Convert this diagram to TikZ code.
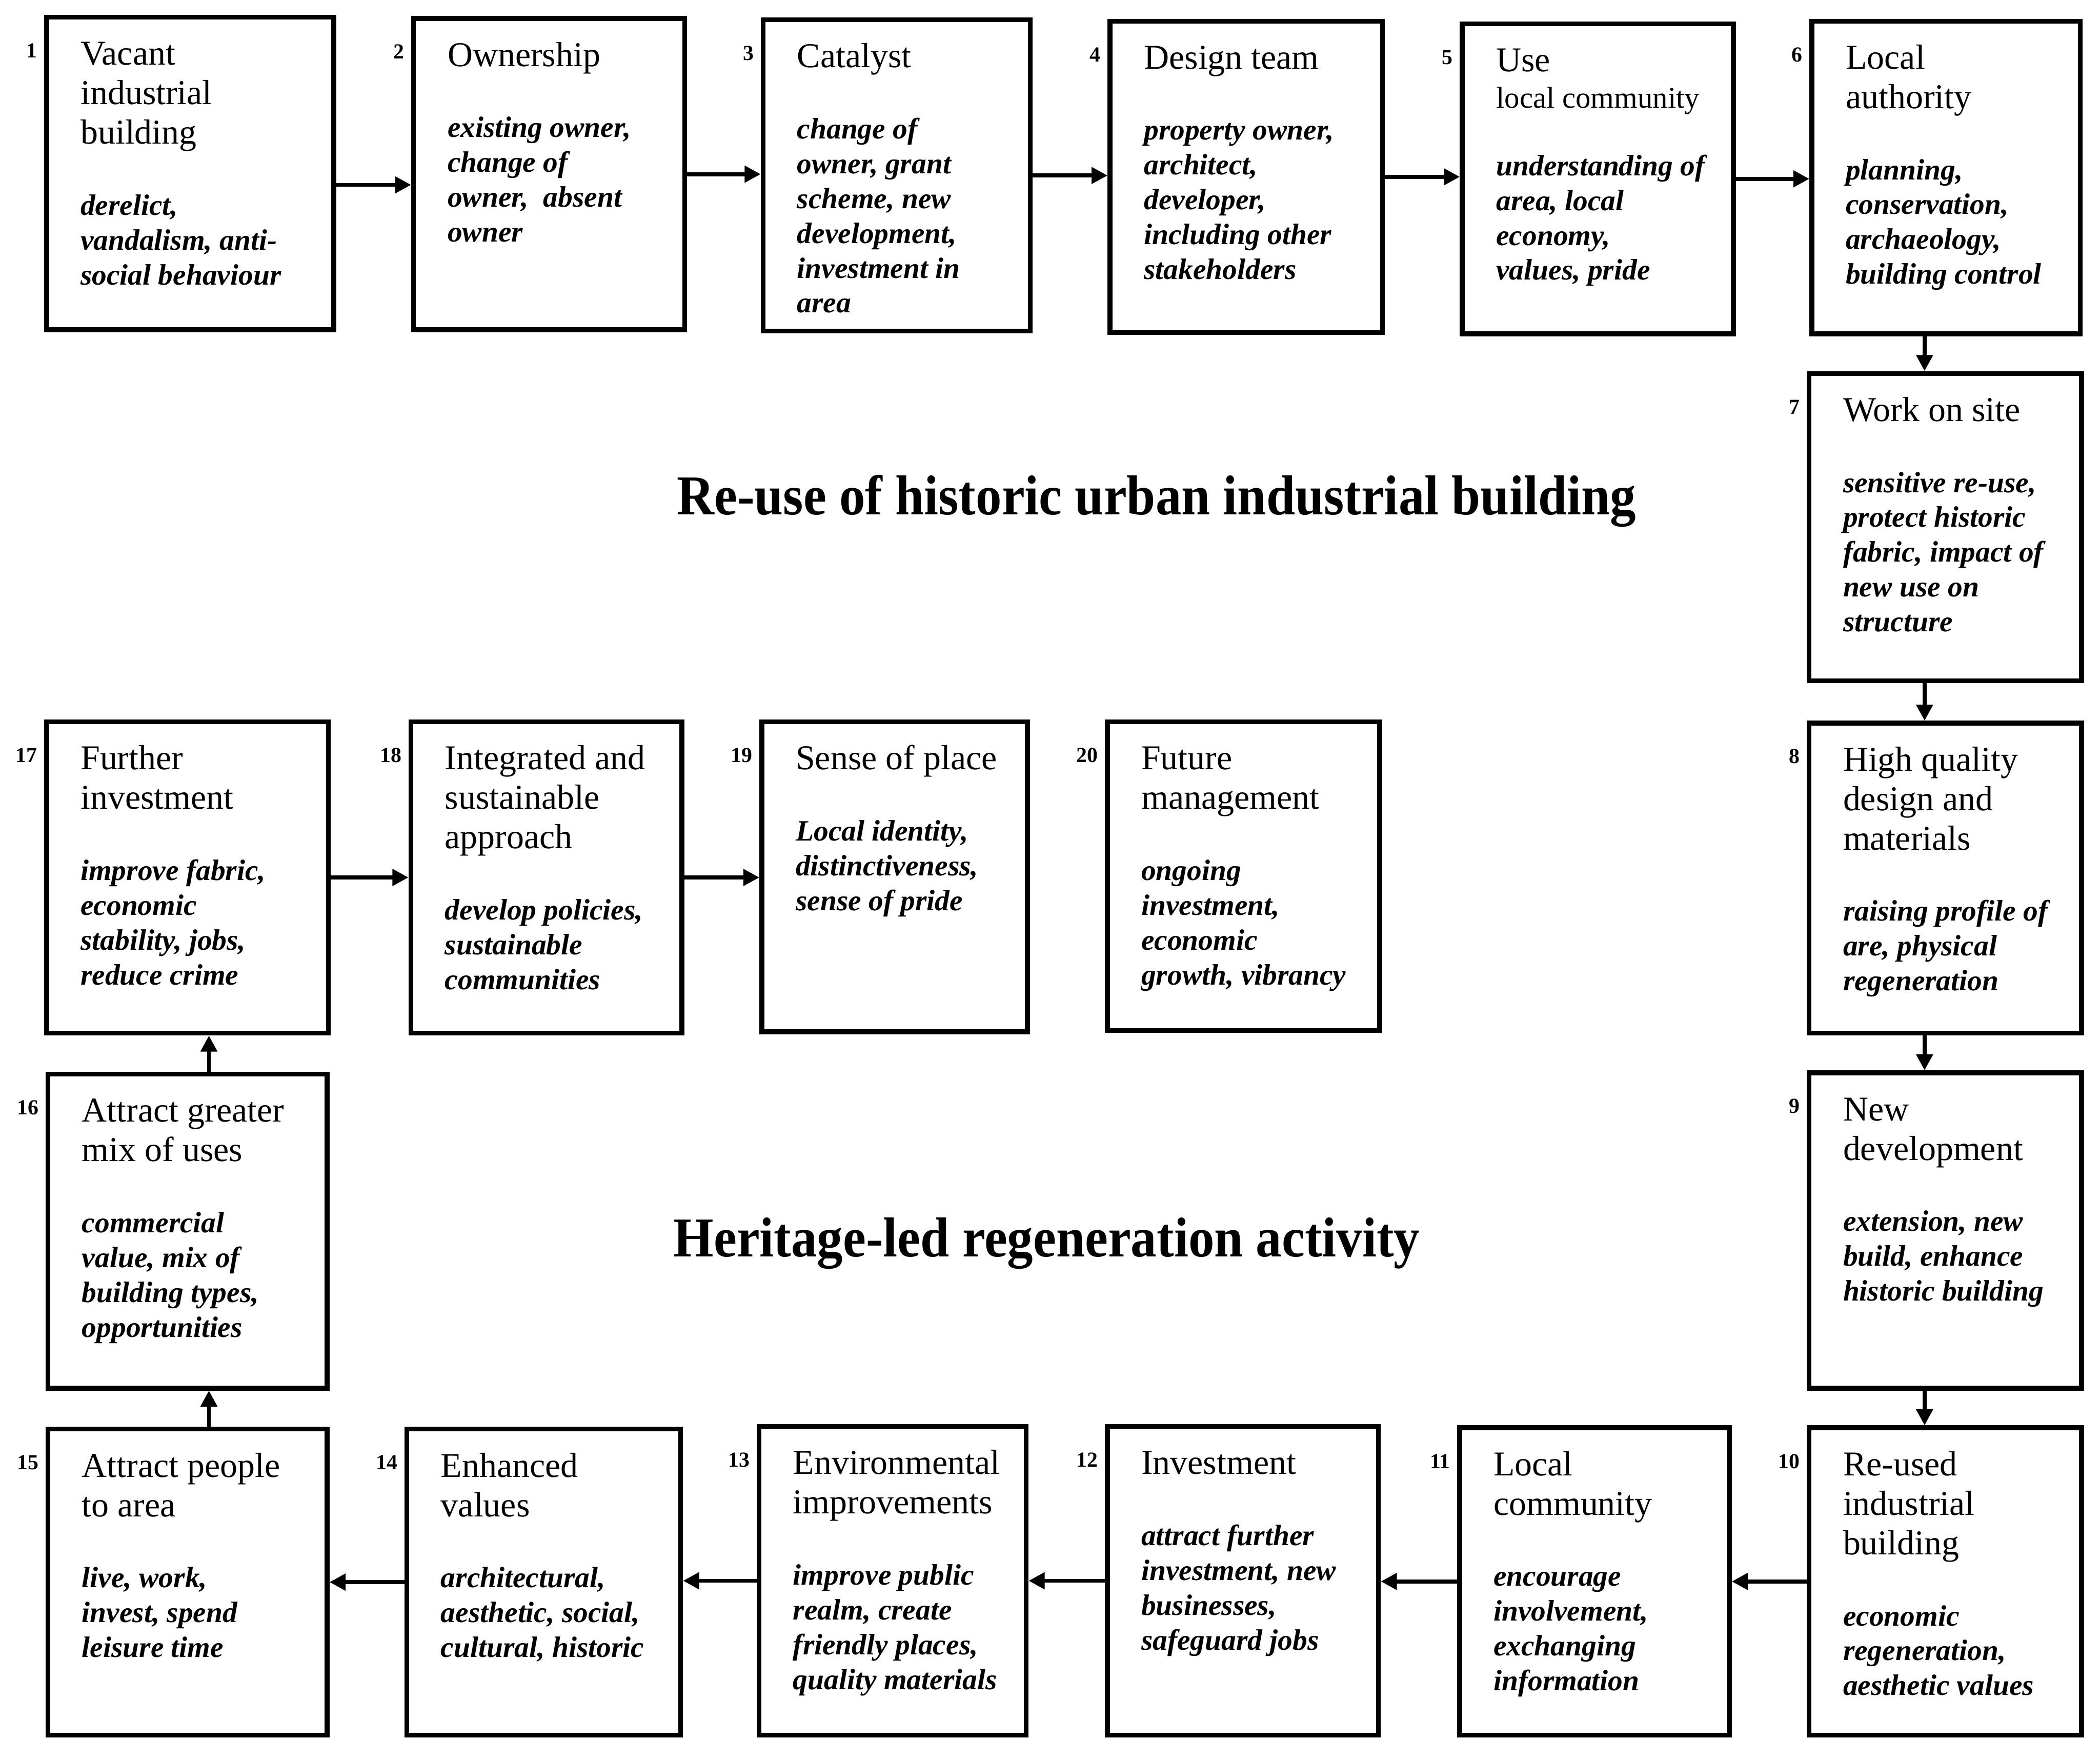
\documentclass[tikz,border=0pt]{standalone}
\usepackage{fontspec}
\setmainfont{Liberation Serif}
\usepackage{graphicx}
\usetikzlibrary{arrows.meta,fit}

\tikzset{
  stage/.style={draw=black, line width=3.6pt, inner sep=0pt, rectangle},
  stagenum/.style={font=\fontsize{16}{16}\selectfont\bfseries, inner sep=0pt},
  stagehead/.style={font=\fontsize{26}{29.5}\selectfont, inner sep=0pt},
  stagedesc/.style={font=\fontsize{22}{26}\selectfont\bfseries\itshape, inner sep=0pt},
  bigtitle/.style={font=\fontsize{42}{42}\selectfont\bfseries, inner sep=0pt},
  flow/.style={line width=3pt, -{Triangle[length=12pt,width=12pt]}},
}

% #1 name, #2 number, #3 left, #4 top, #5 right, #6 bottom (outer edges),
% #7 number of heading lines, #8 heading, #9 description
\newcommand\stagebox[9]{%
  \node[stage, fit={(#3+1.8,#4+1.8) (#5-1.8,#6-1.8)}] (#1) {};
  \node[stagenum, anchor=base east] (#1-n) at (#3-5,#4+32) {#2};
  \node[stagehead, anchor=base west] (#1-h) at (#3+27,#4+37.5)
    {\parbox[t]{220pt}{\raggedright #8}};
  \pgfmathsetmacro\descy{#4+61+29.5*#7}
  \node[stagedesc, anchor=base west] (#1-d) at (#3+27,\descy)
    {\parbox[t]{220pt}{\raggedright #9}};
}

\begin{document}
\begin{tikzpicture}[x=1pt, y=-1pt]
\useasboundingbox (0,0) rectangle (1568,1298);

% top row
\stagebox{b1}{1}{33}{11}{251}{248}{3}{Vacant\\industrial\\building}
  {derelict,\\vandalism, anti-\\social behaviour}
\stagebox{b2}{2}{307}{12}{513}{248}{1}{Ownership}
  {existing owner,\\change of\\owner,\ \ absent\\owner}
\stagebox{b3}{3}{568}{13}{771}{249}{1}{Catalyst}
  {change of\\owner, grant\\scheme, new\\development,\\investment in\\area}
\stagebox{b4}{4}{827}{14}{1034}{250}{1}{Design team}
  {property owner,\\architect,\\developer,\\including other\\stakeholders}
\stagebox{b5}{5}{1090}{16}{1296}{251}{1.83}
  {Use\\[-2.5pt]{\fontsize{22.5}{26}\selectfont local community}}
  {understanding of\\area, local\\economy,\\values, pride}
\stagebox{b6}{6}{1351}{14}{1555}{251}{2}{Local\\authority}
  {planning,\\conservation,\\archaeology,\\building control}

% right column
\stagebox{b7}{7}{1349}{277}{1556}{510}{1}{Work on site}
  {sensitive re-use,\\protect historic\\fabric, impact of\\new use on\\structure}
\stagebox{b8}{8}{1349}{538}{1556}{773}{3}{High quality\\design and\\materials}
  {raising profile of\\are, physical\\regeneration}
\stagebox{b9}{9}{1349}{799}{1556}{1038}{2}{New\\development}
  {extension, new\\build, enhance\\historic building}

% bottom row
\stagebox{b10}{10}{1349}{1064}{1556}{1297}{3}{Re-used\\industrial\\building}
  {economic\\regeneration,\\aesthetic values}
\stagebox{b11}{11}{1088}{1064}{1293}{1297}{2}{Local\\community}
  {encourage\\involvement,\\exchanging\\information}
\stagebox{b12}{12}{825}{1063}{1031}{1297}{1}{Investment}
  {attract further\\investment, new\\businesses,\\safeguard jobs}
\stagebox{b13}{13}{565}{1063}{768}{1297}{2}{Environmental\\improvements}
  {improve public\\realm, create\\friendly places,\\quality materials}
\stagebox{b14}{14}{302}{1065}{510}{1297}{2}{Enhanced\\values}
  {architectural,\\aesthetic, social,\\cultural, historic}
\stagebox{b15}{15}{34}{1065}{246}{1297}{2}{Attract people\\to area}
  {live, work,\\invest, spend\\leisure time}

% left column and middle row
\stagebox{b16}{16}{34}{800}{246}{1038}{2}{Attract greater\\mix of uses}
  {commercial\\value, mix of\\building types,\\opportunities}
\stagebox{b17}{17}{33}{537}{247}{773}{2}{Further\\investment}
  {improve fabric,\\economic\\stability, jobs,\\reduce crime}
\stagebox{b18}{18}{305}{537}{511}{773}{3}{Integrated and\\sustainable\\approach}
  {develop policies,\\sustainable\\communities}
\stagebox{b19}{19}{567}{537}{769}{772}{1}{Sense of place}
  {Local identity,\\distinctiveness,\\sense of pride}
\stagebox{b20}{20}{825}{537}{1032}{771}{2}{Future\\management}
  {ongoing\\investment,\\economic\\growth, vibrancy}

% headings
\node[bigtitle, anchor=base] (t1) at (863.5,384)
  {\scalebox{0.92}[1]{Re-use of historic urban industrial building}};
\node[bigtitle, anchor=base] (t2) at (781.5,938)
  {\scalebox{0.92}[1]{Heritage-led regeneration activity}};

% columns of the vertical connectors
\coordinate (colR) at (1437,0);
\coordinate (colL) at (156,0);

% connectors
\draw[flow] ([yshift=-8.5pt]b1.east) -- ([yshift=-8.5pt]b1.east -| b2.west);
\draw[flow] (b2.east) -- (b2.east -| b3.west);
\draw[flow] (b3.east) -- (b3.east -| b4.west);
\draw[flow] (b4.east) -- (b4.east -| b5.west);
\draw[flow] (b5.east) -- (b5.east -| b6.west);
\draw[flow] (b6.south -| colR) -- (b7.north -| colR);
\draw[flow] (b7.south -| colR) -- (b8.north -| colR);
\draw[flow] (b8.south -| colR) -- (b9.north -| colR);
\draw[flow] (b9.south -| colR) -- (b10.north -| colR);
\draw[flow] (b10.west) -- (b10.west -| b11.east);
\draw[flow] (b11.west) -- (b11.west -| b12.east);
\draw[flow] (b12.west) -- (b12.west -| b13.east);
\draw[flow] (b13.west) -- (b13.west -| b14.east);
\draw[flow] (b14.west) -- (b14.west -| b15.east);
\draw[flow] (b15.north -| colL) -- (b16.south -| colL);
\draw[flow] (b16.north -| colL) -- (b17.south -| colL);
\draw[flow] (b17.east) -- (b17.east -| b18.west);
\draw[flow] (b18.east) -- (b18.east -| b19.west);
\end{tikzpicture}
\end{document}
